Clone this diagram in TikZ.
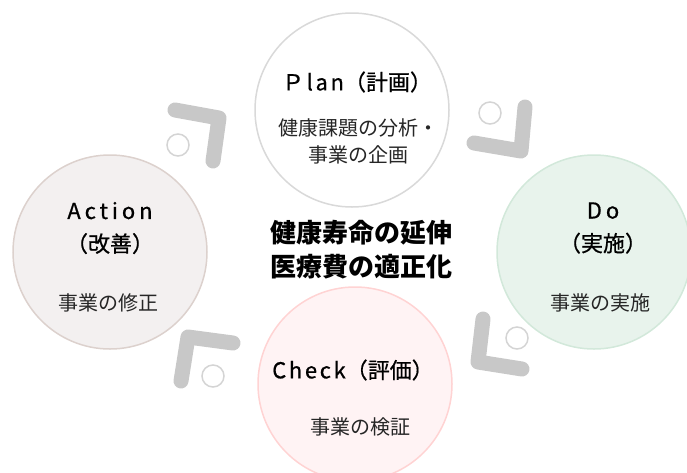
\documentclass[tikz,border=0pt]{standalone}
\usepackage{fontspec}
\setmainfont{Noto Sans CJK JP}
\newfontfamily\headfont{Noto Sans CJK JP}[FakeBold=0.7]
\usepackage{xcolor}
\usepackage{tikz}
\usetikzlibrary{positioning}

\definecolor{planline}{HTML}{D9D9D9}
\definecolor{actfill}{HTML}{F3F0F0}
\definecolor{actline}{HTML}{DCD1CD}
\definecolor{dofill}{HTML}{E8F3EC}
\definecolor{doline}{HTML}{D2E8DA}
\definecolor{chkfill}{HTML}{FFF3F4}
\definecolor{chkline}{HTML}{FFD3D3}
\definecolor{turngray}{HTML}{C8C8C8}
\definecolor{dotgray}{HTML}{D4D4D4}

\begin{document}
\begin{tikzpicture}[x=1pt, y=-1pt,
        phase/.style={circle, line width=1.5pt, minimum size=194pt, inner sep=0pt},
        title/.style={font=\fontsize{22}{33}\selectfont\headfont, align=center},
        sub/.style={font=\fontsize{20}{27}\selectfont, text=black!85, align=center},
        turn/.style={draw=turngray, line width=15pt, line cap=round, line join=round},
        dot/.style={draw=dotgray, line width=1.5pt}]
            \useasboundingbox (0,0) rectangle (687,472);

            % the four phases
            \node[phase, draw=planline, fill=white] (plan) at (352,110) {};
            \node[phase, draw=doline, fill=dofill] (do) at (594,252) {};
            \node[phase, draw=chkline, fill=chkfill] (check) at (355,384) {};
            \node[phase, draw=actline, fill=actfill] (action) at (110,252) {};

            % turning marks between the phases
            \draw[turn] (175,110) -- (219,118) -- (213,161);
            \draw[dot] (178,145) circle (11);

            \draw[turn] (474,143) -- (521,151) -- (525,107);
            \draw[dot] (490,113) circle (11);

            \draw[turn] (483,319) -- (478,362) -- (522,369);
            \draw[dot] (517,338) circle (11);

            \draw[turn] (233,343) -- (188,337) -- (181,381);
            \draw[dot] (213,376) circle (11);

            % texts
            \node[title] (plantitle) at (357,82) {{\addfontfeatures{LetterSpace=12}Ｐlan}（計画）};
            \node[sub] (plantext) at (358,141) {健康課題の分析・\\事業の企画};

            \node[title] (dotitle) at (603,228) {{\addfontfeatures{LetterSpace=18}Do}\\（実施）};
            \node[sub] (dotext) at (600,303) {事業の実施};

            \node[title] (checktitle) at (353,370) {{\addfontfeatures{LetterSpace=12}Check}（評価）};
            \node[sub] (checktext) at (360,427) {事業の検証};

            \node[title] (actiontitle) at (110,228) {{\addfontfeatures{LetterSpace=18}Action}\\（改善）};
            \node[sub] (actiontext) at (108,303) {事業の修正};

            \node[font=\fontsize{26}{34}\selectfont\bfseries, align=center] (goal) at (361,250) {健康寿命の延伸\\医療費の適正化};
        \end{tikzpicture}
\end{document}
